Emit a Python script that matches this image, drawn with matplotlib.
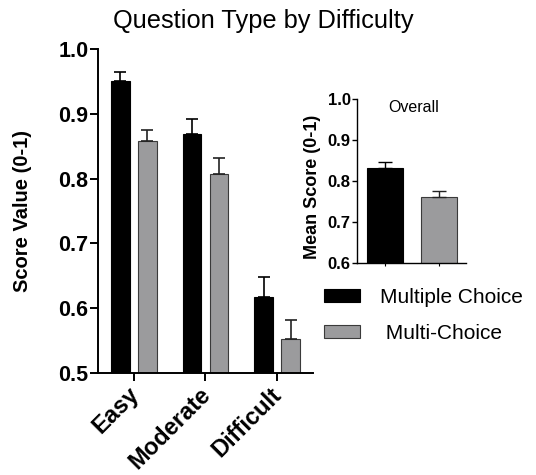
import matplotlib
matplotlib.use("Agg")
import matplotlib.pyplot as plt
import matplotlib.transforms as mtransforms
import numpy as np

plt.rcParams['font.family'] = ['Liberation Sans', 'DejaVu Sans']

# Data
levels = ["Easy", "Moderate", "Difficult"]
series = ["Multiple Choice", " Multi-Choice"]
mc_mean = [0.951, 0.869, 0.617]
mc_err = [0.013, 0.023, 0.031]
mx_mean = [0.858, 0.807, 0.552]
mx_err = [0.017, 0.025, 0.030]

overall_mean = [0.832, 0.761]
overall_err = [0.014, 0.015]

col_mc = "#000000"
col_mx = "#9b9b9d"
edge_mx = "#3a3a3a"

W, H = 536, 475
fig = plt.figure(figsize=(W / 100, H / 100), dpi=100)

def px_axes(x0, y0, x1, y1):
    # pixel box (top-left origin) -> figure axes
    return fig.add_axes([x0 / W, 1 - y1 / H, (x1 - x0) / W, (y1 - y0) / H])

#### Main panel
ax = px_axes(98, 49, 313, 373)
x = np.arange(len(levels))
bw = 0.26
off = 0.19
b1 = ax.bar(x - off, mc_mean, bw, color=col_mc, edgecolor="black", linewidth=0.8,
            yerr=[np.zeros(3), mc_err], error_kw=dict(ecolor="black", elinewidth=1.2,
                                                     capsize=4, capthick=1.2))
b2 = ax.bar(x + off, mx_mean, bw, color=col_mx, edgecolor=edge_mx, linewidth=0.8,
            yerr=[np.zeros(3), mx_err], error_kw=dict(ecolor="#222222", elinewidth=1.2,
                                                     capsize=4, capthick=1.2))
ax.set_xlim(-0.5, 2.5)
ax.set_ylim(0.5, 1.0)
ax.set_yticks([0.5, 0.6, 0.7, 0.8, 0.9, 1.0])
ax.set_yticklabels(["0.5", "0.6", "0.7", "0.8", "0.9", "1.0"])
ax.set_xticks(x)
ax.set_xticklabels(levels, rotation=45, ha="right", va="top", rotation_mode="anchor")
for s in ["top", "right"]:
    ax.spines[s].set_visible(False)
for s in ["left", "bottom"]:
    ax.spines[s].set_linewidth(1.4)
ax.tick_params(axis="both", width=1.4, length=5.5, labelsize=15.5)
ax.tick_params(axis="y", pad=1.5)
ax.tick_params(axis="x", pad=3, labelsize=17)
# nudge rotated labels a little left/up, as in the reference
shift = mtransforms.ScaledTranslation(-0.07, 0.02, fig.dpi_scale_trans)
for lab in ax.get_xticklabels():
    lab.set_transform(lab.get_transform() + shift)
for lab in ax.get_xticklabels() + ax.get_yticklabels():
    lab.set_fontweight("bold")
ax.set_ylabel("Score Value (0-1)", fontsize=14.5, fontweight="bold")
ax.yaxis.set_label_coords(-0.307, 0.5)

fig.text(263.5 / W, 1 - 28 / H, "Question Type by Difficulty", fontsize=18.3,
         ha="center", va="baseline")

#### Inset: overall
ai = px_axes(357, 99, 466, 263)
xi = np.arange(2)
ai.bar(xi[0], overall_mean[0], 0.67, color=col_mc, edgecolor="black", linewidth=0.8,
       yerr=[[0], [overall_err[0]]], error_kw=dict(ecolor="black", elinewidth=1.0,
                                                  capsize=5, capthick=1.0))
ai.bar(xi[1], overall_mean[1], 0.67, color=col_mx, edgecolor=edge_mx, linewidth=0.8,
       yerr=[[0], [overall_err[1]]], error_kw=dict(ecolor="#222222", elinewidth=1.0,
                                                  capsize=5, capthick=1.0))
ai.set_xlim(-0.52, 1.5)
ai.set_ylim(0.6, 1.0)
ai.set_yticks([0.6, 0.7, 0.8, 0.9, 1.0])
ai.set_yticklabels(["0.6", "0.7", "0.8", "0.9", "1.0"])
ai.set_xticks(xi)
ai.set_xticklabels(["", ""])
for s in ["top", "right"]:
    ai.spines[s].set_visible(False)
for s in ["left", "bottom"]:
    ai.spines[s].set_linewidth(1.0)
ai.tick_params(axis="y", width=1.0, length=3.5, labelsize=12, pad=1)
ai.tick_params(axis="x", width=0.8, length=2)
for lab in ai.get_yticklabels():
    lab.set_fontweight("bold")
ai.set_ylabel("Mean Score (0-1)", fontsize=13, fontweight="bold")
ai.yaxis.set_label_coords(-0.33, 0.466)
ai.text(0.284, 0.948, "Overall", transform=ai.transAxes, fontsize=11.5,
        ha="left", va="center")

#### Legend
fig.legend([b1.patches[0], b2.patches[0]], series, loc="upper left",
           bbox_to_anchor=(324 / W, 1 - 288 / H), frameon=False, fontsize=15,
           handlelength=1.73, handleheight=0.58, handletextpad=0.96,
           labelspacing=0.8, borderpad=0, borderaxespad=0)

fig.savefig("out.png", dpi=100)
